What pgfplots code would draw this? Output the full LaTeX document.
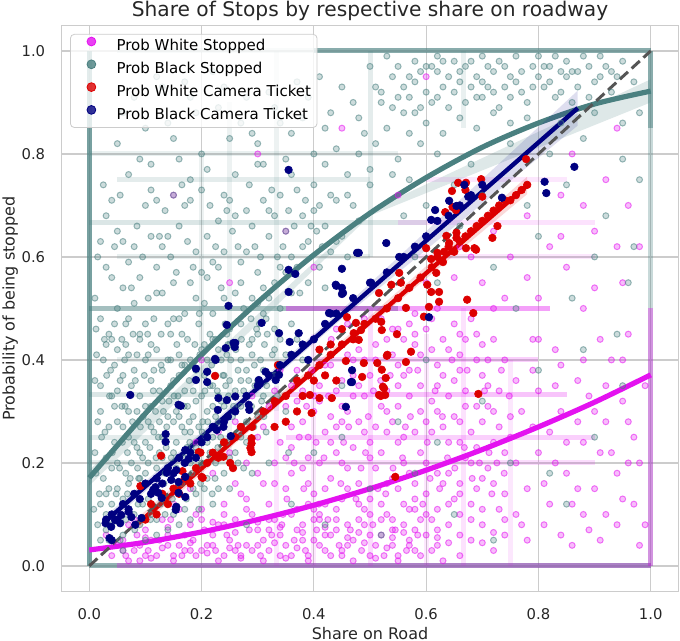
\documentclass[border=0pt]{standalone}
\usepackage{fontspec}
\setmainfont{DejaVu Sans}
\usepackage{pgfplots}
\pgfplotsset{compat=1.18}
\definecolor{cmag}{RGB}{228,18,240}
\definecolor{cteal}{RGB}{74,128,128}
\definecolor{cred}{RGB}{220,0,0}
\definecolor{cnavy}{RGB}{0,0,128}
\definecolor{cgrid}{RGB}{204,204,204}
\definecolor{cdash}{RGB}{85,85,85}
\pgfplotsset{
 tealpts/.style={forget plot, only marks, mark=*, mark size=1.5pt, mark options={draw=cteal, fill=cteal, draw opacity=0.55, fill opacity=0.28, line width=0.5pt}},
 magpts/.style={forget plot, only marks, mark=*, mark size=1.5pt, mark options={draw=cmag, fill=cmag, draw opacity=0.55, fill opacity=0.28, line width=0.5pt}},
 redpts/.style={forget plot, only marks, mark=*, mark size=1.9pt, mark options={draw=cred, fill=cred, line width=0.3pt}},
 navypts/.style={forget plot, only marks, mark=*, mark size=1.9pt, mark options={draw=cnavy, fill=cnavy, line width=0.3pt}},
 tband/.style={forget plot, cteal, line width=2.5pt, opacity=#1},
 mband/.style={forget plot, cmag, line width=2.5pt, opacity=#1},
}
\begin{document}
\begin{tikzpicture}
\begin{axis}[
 scale only axis, width=308.8pt, height=283.25pt,
 xmin=-0.05, xmax=1.05, ymin=-0.05, ymax=1.05,
 axis line style={cgrid, line width=0.6pt},
 grid=major, grid style={cgrid, line width=0.6pt},
 major tick length=0pt,
 xtick={0,0.2,0.4,0.6,0.8,1}, ytick={0,0.2,0.4,0.6,0.8,1},
 xticklabels={0.0,0.2,0.4,0.6,0.8,1.0}, yticklabels={0.0,0.2,0.4,0.6,0.8,1.0},
 tick label style={font=\fontsize{7.4}{8.9}\selectfont, text=black!85},
 xticklabel style={yshift=-5pt}, yticklabel style={xshift=-4.5pt},
 title={Share of Stops by respective share on roadway},
 title style={font=\fontsize{10.1}{12}\selectfont, at={(axis description cs:0.5,1)}, anchor=base, yshift=-1.7pt, inner sep=0pt, text=black!85},
 xlabel={Share on Road},
 xlabel style={font=\fontsize{8}{9.6}\selectfont, at={(axis description cs:0.5,0)}, anchor=north, yshift=-17.5pt, inner sep=0pt, text=black!85},
 ylabel={Probability of being stopped},
 ylabel style={font=\fontsize{8}{9.6}\selectfont, at={(axis description cs:-0.0958,0.5)}, anchor=north, inner sep=0pt, text=black!85},
 legend image code/.code={\path[draw=none,fill=none] (-9.5pt,0pt) rectangle (10.6pt,2pt); \draw[#1] plot coordinates {(0pt,2.6pt)};},
 legend cell align=left,
 legend style={at={(axis description cs:0.01425,0.9846)}, anchor=north west, draw=cgrid, rounded corners=2pt, fill=white, fill opacity=0.8, draw opacity=1, text opacity=1, font=\fontsize{7.5}{9}\selectfont, inner xsep=1pt, inner ysep=0.5pt, nodes={inner xsep=2pt, inner ysep=2pt, text height=5.7pt, text depth=1.7pt}},
]
\addlegendimage{cmag, mark=*, mark size=2.2pt}
\addlegendentry{Prob White Stopped}
\addlegendimage{cteal, mark=*, mark size=2.2pt}
\addlegendentry{Prob Black Stopped}
\addlegendimage{cred, mark=*, mark size=2.2pt}
\addlegendentry{Prob White Camera Ticket}
\addlegendimage{cnavy, mark=*, mark size=2.2pt}
\addlegendentry{Prob Black Camera Ticket}

% ---------- teal dense rows/columns ----------
\addplot[tband=0.75] coordinates {(0,0) (0,1)};
\addplot[tband=0.6] coordinates {(0,0) (1,0)};
\addplot[tband=0.15] coordinates {(0.05,1) (0.4,1)};
\addplot[tband=0.65] coordinates {(0.4,1) (1,1)};
\addplot[tband=0.65] coordinates {(1,0.85) (1,1)};
\addplot[tband=0.3] coordinates {(1,0) (1,0.85)};
\addplot[tband=0.5] coordinates {(0,0.5) (0.55,0.5)};
\addplot[tband=0.2] coordinates {(0,0.667) (0.6,0.667)};
\addplot[tband=0.2] coordinates {(0,0.333) (0.35,0.333)};
\addplot[tband=0.15] coordinates {(0,0.25) (0.3,0.25)};
\addplot[tband=0.12] coordinates {(0,0.2) (0.25,0.2)};
\addplot[tband=0.15] coordinates {(0.05,0.75) (0.5,0.75)};
\addplot[tband=0.12] coordinates {(0,0.8) (0.55,0.8)};
\addplot[tband=0.12] coordinates {(0.05,0.6) (0.5,0.6)};
\addplot[tband=0.12] coordinates {(0.05,0.4) (0.35,0.4)};
\addplot[tband=0.15] coordinates {(0.5,0.6) (0.5,1)};
\addplot[tband=0.1] coordinates {(0.25,0.2) (0.25,0.9)};
\addplot[tband=0.1] coordinates {(0.333,0.3) (0.333,1)};
\addplot[tband=0.12] coordinates {(0.667,0.85) (0.667,1)};
\addplot[tband=0.1] coordinates {(0.2,0.1) (0.2,0.8)};

% ---------- magenta dense rows/columns ----------
\addplot[mband=0.3] coordinates {(0.05,0) (1,0)};
\addplot[mband=0.4] coordinates {(0.35,0.5) (0.82,0.5)};
\addplot[mband=0.2] coordinates {(0.4,0.4) (0.8,0.4)};
\addplot[mband=0.25] coordinates {(0.35,0.333) (0.85,0.333)};
\addplot[mband=0.2] coordinates {(0.35,0.25) (0.9,0.25)};
\addplot[mband=0.15] coordinates {(0.35,0.2) (0.9,0.2)};
\addplot[mband=0.12] coordinates {(0.55,0.667) (0.9,0.667)};
\addplot[mband=0.1] coordinates {(0.55,0.6) (0.9,0.6)};
\addplot[mband=0.1] coordinates {(0.6,0.75) (0.85,0.75)};
\addplot[mband=0.35] coordinates {(1,0) (1,0.5)};
\addplot[mband=0.15] coordinates {(0.5,0) (0.5,0.5)};
\addplot[mband=0.12] coordinates {(0.667,0) (0.667,0.5)};
\addplot[mband=0.1] coordinates {(0.6,0) (0.6,0.45)};
\addplot[mband=0.1] coordinates {(0.75,0) (0.75,0.4)};
\addplot[mband=0.1] coordinates {(0.333,0) (0.333,0.35)};
\addplot[mband=0.1] coordinates {(0.4,0) (0.4,0.45)};

% ---------- Prob White Stopped (magenta scatter) ----------
\addplot[magpts] coordinates {
(0.04,0.02)(0.06,0.05)(0.08,0.03)(0.10,0.07)(0.12,0.02)(0.14,0.06)(0.16,0.04)(0.18,0.08)(0.20,0.03)(0.22,0.06)(0.24,0.02)(0.26,0.09)(0.28,0.04)(0.30,0.07)(0.32,0.03)(0.34,0.06)(0.36,0.02)(0.38,0.08)(0.40,0.05)(0.42,0.03)(0.44,0.07)(0.46,0.04)(0.48,0.09)(0.50,0.02)(0.52,0.06)(0.54,0.04)(0.56,0.08)(0.58,0.03)(0.60,0.06)
(0.05,0.04)(0.07,0.08)(0.09,0.01)(0.11,0.05)(0.13,0.09)(0.15,0.02)(0.17,0.06)(0.19,0.10)(0.21,0.04)(0.23,0.08)(0.25,0.05)(0.27,0.02)(0.29,0.10)(0.31,0.05)(0.33,0.09)(0.35,0.04)(0.37,0.07)(0.39,0.02)(0.41,0.10)(0.43,0.06)(0.45,0.02)(0.47,0.05)(0.49,0.08)(0.51,0.04)(0.53,0.10)(0.55,0.02)(0.57,0.05)(0.59,0.09)
(0.03,0.06)(0.065,0.02)(0.085,0.06)(0.105,0.03)(0.125,0.05)(0.145,0.09)(0.165,0.02)(0.185,0.05)(0.205,0.07)(0.225,0.03)(0.245,0.06)(0.265,0.04)(0.285,0.07)(0.305,0.02)(0.325,0.06)(0.345,0.10)(0.365,0.05)(0.385,0.03)(0.405,0.07)(0.425,0.09)(0.445,0.04)(0.465,0.07)(0.485,0.03)(0.505,0.08)(0.525,0.02)(0.545,0.07)(0.565,0.03)(0.585,0.06)(0.62,0.04)(0.64,0.08)(0.66,0.02)
(0.07,0.01)(0.11,0.015)(0.15,0.01)(0.19,0.02)(0.23,0.01)(0.27,0.015)(0.31,0.01)(0.35,0.015)(0.39,0.01)(0.43,0.02)(0.47,0.01)(0.51,0.015)(0.55,0.01)(0.59,0.02)(0.63,0.01)(0.09,0.04)(0.13,0.035)(0.17,0.03)(0.21,0.025)(0.25,0.035)(0.29,0.03)(0.33,0.045)(0.37,0.035)(0.41,0.04)(0.45,0.03)(0.49,0.045)(0.53,0.035)(0.57,0.04)(0.61,0.03)(0.68,0.05)(0.72,0.03)(0.70,0.08)(0.74,0.06)
(0.06,0.03)(0.10,0.02)(0.14,0.04)(0.18,0.03)(0.22,0.04)(0.26,0.03)(0.30,0.04)(0.34,0.02)(0.38,0.05)(0.42,0.06)(0.46,0.08)(0.50,0.06)(0.54,0.07)(0.58,0.07)(0.62,0.07)(0.66,0.06)(0.20,0.09)(0.24,0.08)(0.28,0.11)(0.32,0.09)(0.36,0.10)(0.40,0.09)(0.44,0.11)(0.48,0.12)(0.52,0.09)(0.56,0.12)(0.60,0.10)(0.64,0.12)(0.68,0.09)
(0.10,0.055)(0.14,0.075)(0.18,0.045)(0.22,0.085)(0.26,0.065)(0.30,0.085)(0.34,0.075)(0.38,0.065)(0.42,0.075)(0.46,0.055)(0.50,0.10)(0.54,0.055)(0.58,0.11)(0.62,0.055)(0.66,0.10)(0.70,0.045)(0.74,0.09)(0.08,0.09)(0.16,0.11)(0.24,0.10)(0.32,0.07)(0.40,0.11)(0.48,0.065)(0.56,0.065)(0.64,0.045)(0.72,0.065)
(0.32,0.12)(0.36,0.18)(0.40,0.14)(0.44,0.22)(0.48,0.16)(0.52,0.12)(0.56,0.20)(0.60,0.14)(0.64,0.18)(0.68,0.12)(0.72,0.16)(0.76,0.10)
(0.34,0.24)(0.38,0.28)(0.42,0.26)(0.46,0.30)(0.50,0.24)(0.54,0.28)(0.58,0.26)(0.62,0.30)(0.66,0.24)(0.70,0.28)(0.74,0.22)
(0.33,0.34)(0.37,0.38)(0.41,0.32)(0.45,0.36)(0.49,0.40)(0.53,0.34)(0.57,0.38)(0.61,0.32)(0.65,0.36)(0.69,0.40)(0.73,0.34)
(0.40,0.44)(0.44,0.46)(0.48,0.42)(0.52,0.48)(0.56,0.44)(0.60,0.46)(0.64,0.42)(0.68,0.48)(0.72,0.44)(0.62,0.50)(0.66,0.45)
(0.35,0.15)(0.39,0.21)(0.43,0.17)(0.47,0.23)(0.51,0.19)(0.55,0.15)(0.59,0.22)(0.63,0.16)(0.67,0.21)(0.71,0.19)(0.75,0.25)
(0.31,0.27)(0.35,0.31)(0.39,0.25)(0.43,0.29)(0.47,0.33)(0.51,0.27)(0.55,0.31)(0.59,0.35)(0.63,0.27)(0.67,0.31)(0.71,0.35)(0.75,0.29)
(0.42,0.39)(0.46,0.41)(0.50,0.37)(0.54,0.41)(0.58,0.43)(0.62,0.39)(0.66,0.41)(0.70,0.37)(0.46,0.47)(0.54,0.46)(0.58,0.49)
(0.37,0.11)(0.41,0.09)(0.45,0.13)(0.49,0.11)(0.53,0.16)(0.57,0.11)(0.61,0.09)(0.65,0.13)(0.69,0.15)(0.73,0.11)
(0.30,0.18)(0.28,0.13)(0.26,0.16)(0.24,0.12)(0.33,0.20)(0.36,0.23)(0.38,0.34)(0.40,0.30)(0.44,0.34)(0.48,0.28)(0.52,0.22)(0.56,0.25)(0.60,0.20)(0.64,0.24)(0.68,0.20)(0.72,0.24)(0.62,0.35)(0.66,0.38)(0.70,0.43)(0.74,0.40)
(0.45,0.20)(0.49,0.26)(0.53,0.30)(0.57,0.18)(0.61,0.26)(0.65,0.29)(0.69,0.23)(0.73,0.27)(0.47,0.37)(0.51,0.43)(0.55,0.39)(0.59,0.30)(0.63,0.44)(0.67,0.34)(0.71,0.31)(0.43,0.24)(0.39,0.16)(0.41,0.20)(0.55,0.35)(0.61,0.42)(0.65,0.47)(0.69,0.45)(0.57,0.47)(0.53,0.44)(0.49,0.33)(0.45,0.28)(0.42,0.12)(0.46,0.15)(0.50,0.13)(0.54,0.09)(0.58,0.13)(0.62,0.11)(0.66,0.16)(0.70,0.11)
(0.36,0.27)(0.40,0.33)(0.44,0.27)(0.48,0.35)(0.52,0.31)(0.56,0.37)(0.60,0.28)(0.64,0.33)(0.68,0.26)(0.72,0.30)(0.38,0.19)(0.42,0.15)(0.46,0.19)(0.50,0.21)(0.54,0.17)(0.58,0.16)(0.62,0.18)(0.66,0.14)(0.70,0.17)(0.74,0.14)
(0.43,0.39)(0.47,0.44)(0.51,0.40)(0.55,0.46)(0.59,0.41)(0.63,0.37)(0.67,0.44)(0.71,0.40)(0.49,0.48)(0.61,0.48)(0.57,0.33)(0.53,0.26)(0.45,0.31)(0.41,0.35)(0.37,0.32)(0.35,0.21)(0.39,0.12)(0.33,0.16)
(0.352,0.13)(0.374,0.25)(0.396,0.38)(0.418,0.21)(0.44,0.09)(0.462,0.27)(0.484,0.19)(0.506,0.34)(0.528,0.14)(0.55,0.24)(0.572,0.29)(0.594,0.12)(0.616,0.34)(0.638,0.21)(0.66,0.28)(0.682,0.17)(0.704,0.34)(0.726,0.20)(0.748,0.33)
(0.36,0.35)(0.382,0.15)(0.404,0.24)(0.426,0.33)(0.448,0.16)(0.47,0.40)(0.492,0.22)(0.514,0.15)(0.536,0.37)(0.558,0.21)(0.58,0.45)(0.602,0.24)(0.624,0.15)(0.646,0.40)(0.668,0.23)(0.69,0.31)(0.712,0.22)(0.734,0.38)
(0.343,0.08)(0.365,0.20)(0.387,0.31)(0.409,0.12)(0.431,0.44)(0.453,0.24)(0.475,0.13)(0.497,0.29)(0.519,0.36)(0.541,0.19)(0.563,0.27)(0.585,0.38)(0.607,0.17)(0.629,0.29)(0.651,0.19)(0.673,0.38)(0.695,0.20)(0.717,0.14)(0.739,0.18)
(0.78,0.05)(0.82,0.12)(0.86,0.04)(0.90,0.15)(0.94,0.08)(0.98,0.20)(0.80,0.22)(0.84,0.30)(0.88,0.24)(0.92,0.35)(0.96,0.28)(0.79,0.38)(0.83,0.42)(0.87,0.36)(0.91,0.44)(0.95,0.40)(0.77,0.30)(0.81,0.08)(0.85,0.18)(0.89,0.07)(0.93,0.22)(0.97,0.12)(0.99,0.35)(0.78,0.15)(0.82,0.26)(0.86,0.12)(0.90,0.30)(0.94,0.18)(0.98,0.04)(0.80,0.34)(0.84,0.06)(0.88,0.40)(0.92,0.10)(0.96,0.45)(0.76,0.20)(0.79,0.44)(0.87,0.28)(0.95,0.32)(0.83,0.20)(0.91,0.05)
(0.77,0.08)(0.81,0.16)(0.85,0.24)(0.89,0.33)(0.93,0.40)(0.97,0.25)(0.79,0.27)(0.83,0.35)(0.87,0.15)(0.91,0.22)(0.95,0.13)(0.99,0.08)(0.76,0.36)(0.80,0.44)(0.84,0.39)(0.88,0.10)(0.92,0.28)(0.96,0.20)
(0.70,0.55)(0.75,0.60)(0.80,0.52)(0.85,0.58)(0.90,0.65)(0.95,0.55)(0.78,0.68)(0.84,0.72)(0.92,0.75)(0.72,0.65)(0.88,0.50)(0.98,0.62)(0.65,0.56)(0.82,0.62)(0.96,0.70)(0.74,0.52)(0.68,0.60)(0.86,0.80)(0.60,0.55)(0.94,0.85)
(0.72,0.50)(0.78,0.56)(0.84,0.64)(0.90,0.54)(0.94,0.62)(0.76,0.72)(0.88,0.70)(0.66,0.62)
(0.15,0.12)(0.18,0.15)(0.22,0.18)(0.25,0.22)(0.28,0.20)(0.20,0.11)(0.30,0.25)(0.12,0.10)(0.26,0.28)(0.32,0.31)(0.34,0.38)(0.29,0.33)(0.17,0.20)(0.23,0.26)(0.27,0.14)(0.31,0.16)(0.19,0.24)
(0.25,0.55)(0.15,0.72)(0.35,0.65)(0.30,0.80)(0.45,0.85)(0.20,0.40)(0.40,0.58)(0.55,0.72)(0.60,0.95)
};
\addplot[forget plot, cmag, line width=2.6pt, smooth] coordinates {(0,0.031)(0.1,0.046)(0.2,0.066)(0.3,0.090)(0.4,0.118)(0.5,0.150)(0.6,0.186)(0.7,0.226)(0.8,0.270)(0.9,0.318)(1,0.371)};

% ---------- Prob Black Stopped (teal scatter) ----------
\addplot[tealpts] coordinates {
(0.02,0.12)(0.03,0.21)(0.04,0.33)(0.05,0.09)(0.06,0.27)(0.07,0.16)(0.08,0.38)(0.09,0.22)(0.10,0.31)(0.11,0.14)(0.12,0.42)(0.13,0.25)(0.14,0.19)(0.15,0.36)(0.16,0.29)(0.17,0.11)(0.18,0.40)(0.19,0.23)(0.20,0.33)(0.21,0.17)(0.22,0.44)(0.23,0.28)(0.24,0.37)(0.25,0.21)
(0.015,0.28)(0.025,0.40)(0.035,0.15)(0.045,0.24)(0.055,0.36)(0.065,0.43)(0.075,0.20)(0.085,0.30)(0.095,0.12)(0.105,0.41)(0.115,0.26)(0.125,0.34)(0.135,0.18)(0.145,0.45)(0.155,0.24)(0.165,0.39)(0.175,0.31)(0.185,0.15)(0.195,0.27)(0.205,0.43)(0.215,0.35)(0.225,0.20)(0.235,0.32)(0.245,0.41)
(0.02,0.35)(0.03,0.07)(0.04,0.19)(0.05,0.42)(0.06,0.13)(0.07,0.30)(0.08,0.24)(0.09,0.44)(0.10,0.18)(0.11,0.36)(0.12,0.09)(0.13,0.32)(0.14,0.40)(0.15,0.22)(0.16,0.14)(0.17,0.34)(0.18,0.26)(0.19,0.38)(0.20,0.20)(0.21,0.30)(0.22,0.25)(0.23,0.42)(0.24,0.18)(0.26,0.34)
(0.012,0.18)(0.028,0.26)(0.038,0.38)(0.048,0.14)(0.058,0.31)(0.068,0.22)(0.078,0.45)(0.088,0.17)(0.098,0.37)(0.108,0.23)(0.118,0.30)(0.128,0.45)(0.138,0.27)(0.148,0.13)(0.158,0.33)(0.168,0.21)(0.178,0.36)(0.188,0.43)(0.198,0.16)(0.208,0.25)(0.218,0.39)(0.228,0.34)(0.238,0.27)(0.27,0.40)
(0.02,0.05)(0.04,0.08)(0.06,0.06)(0.03,0.10)(0.05,0.15)(0.07,0.11)(0.09,0.08)(0.11,0.10)(0.13,0.13)(0.08,0.14)
(0.01,0.22)(0.02,0.30)(0.03,0.14)(0.04,0.44)(0.05,0.20)(0.06,0.37)(0.07,0.25)(0.08,0.10)(0.09,0.33)(0.10,0.24)(0.11,0.43)(0.12,0.19)(0.13,0.38)(0.14,0.29)(0.15,0.10)(0.16,0.41)(0.17,0.26)(0.18,0.20)(0.19,0.32)(0.20,0.42)(0.21,0.24)(0.22,0.35)(0.23,0.15)(0.24,0.31)(0.26,0.22)(0.27,0.36)(0.29,0.41)(0.31,0.38)(0.33,0.46)(0.35,0.41)
(0.025,0.17)(0.045,0.31)(0.065,0.18)(0.085,0.41)(0.105,0.28)(0.125,0.22)(0.145,0.35)(0.165,0.16)(0.185,0.29)(0.205,0.37)(0.225,0.44)(0.245,0.24)(0.14,0.07)(0.10,0.05)(0.18,0.09)(0.06,0.03)(0.12,0.06)(0.16,0.08)
(0.015,0.08)(0.035,0.27)(0.055,0.05)(0.075,0.35)(0.095,0.21)(0.115,0.38)(0.135,0.10)(0.155,0.30)(0.175,0.44)(0.195,0.11)(0.215,0.22)(0.235,0.40)(0.255,0.29)(0.275,0.19)(0.295,0.35)(0.315,0.26)(0.335,0.33)(0.355,0.22)
(0.01,0.36)(0.03,0.43)(0.05,0.28)(0.07,0.41)(0.09,0.17)(0.11,0.31)(0.13,0.21)(0.15,0.28)(0.17,0.39)(0.19,0.14)(0.21,0.40)(0.23,0.33)(0.25,0.36)(0.27,0.31)(0.29,0.18)(0.31,0.33)(0.33,0.37)(0.37,0.44)
(0.045,0.39)(0.065,0.09)(0.085,0.23)(0.105,0.13)(0.125,0.28)(0.145,0.40)(0.165,0.27)(0.185,0.34)(0.205,0.15)(0.225,0.29)(0.245,0.45)(0.265,0.38)(0.285,0.43)(0.305,0.40)
(0.013,0.41)(0.036,0.33)(0.059,0.24)(0.082,0.36)(0.105,0.20)(0.128,0.39)(0.151,0.33)(0.174,0.23)(0.197,0.41)(0.22,0.31)(0.243,0.35)(0.266,0.26)(0.289,0.31)(0.312,0.43)
(0.018,0.14)(0.041,0.22)(0.064,0.31)(0.087,0.12)(0.11,0.27)(0.133,0.16)(0.156,0.43)(0.179,0.24)(0.202,0.28)(0.225,0.37)(0.248,0.33)(0.271,0.44)(0.294,0.39)(0.317,0.45)
(0.022,0.25)(0.045,0.47)(0.068,0.14)(0.091,0.27)(0.114,0.34)(0.137,0.23)(0.16,0.37)(0.183,0.18)(0.206,0.34)(0.229,0.23)(0.252,0.40)(0.275,0.34)(0.298,0.46)(0.321,0.37)
(0.008,0.11)(0.031,0.37)(0.054,0.19)(0.077,0.28)(0.1,0.40)(0.123,0.25)(0.146,0.21)(0.169,0.31)(0.192,0.19)(0.215,0.45)(0.238,0.37)(0.261,0.42)(0.284,0.36)(0.307,0.32)
(0.027,0.44)(0.05,0.34)(0.073,0.17)(0.096,0.29)(0.119,0.21)(0.142,0.32)(0.165,0.45)(0.188,0.22)(0.211,0.28)(0.234,0.25)(0.257,0.31)(0.28,0.28)(0.303,0.47)(0.326,0.41)
(0.04,0.12)(0.063,0.40)(0.086,0.19)(0.109,0.09)(0.132,0.30)(0.155,0.19)(0.178,0.28)(0.201,0.26)(0.224,0.17)(0.247,0.43)(0.27,0.25)(0.293,0.27)(0.316,0.35)(0.34,0.44)
(0.012,0.46)(0.035,0.05)(0.058,0.44)(0.081,0.07)(0.104,0.45)(0.127,0.12)(0.15,0.48)(0.173,0.13)(0.196,0.49)(0.219,0.14)(0.242,0.47)(0.265,0.20)(0.288,0.48)(0.311,0.29)
(0.02,0.48)(0.04,0.56)(0.06,0.63)(0.08,0.51)(0.10,0.70)(0.12,0.58)(0.14,0.47)(0.16,0.66)(0.18,0.55)(0.20,0.73)(0.22,0.49)(0.24,0.61)(0.26,0.53)(0.28,0.69)(0.30,0.57)(0.32,0.64)(0.34,0.72)(0.36,0.60)(0.38,0.68)(0.40,0.74)(0.42,0.66)(0.44,0.71)
(0.03,0.68)(0.05,0.50)(0.07,0.59)(0.09,0.45)(0.11,0.64)(0.13,0.53)(0.15,0.72)(0.17,0.49)(0.19,0.61)(0.21,0.56)(0.23,0.67)(0.25,0.46)(0.27,0.59)(0.29,0.52)(0.31,0.71)(0.33,0.55)(0.35,0.65)(0.37,0.58)(0.39,0.63)(0.41,0.70)(0.43,0.61)
(0.015,0.60)(0.035,0.45)(0.055,0.72)(0.075,0.54)(0.095,0.60)(0.115,0.48)(0.135,0.69)(0.155,0.57)(0.175,0.63)(0.195,0.47)(0.215,0.70)(0.235,0.54)(0.255,0.65)(0.275,0.50)(0.295,0.62)(0.315,0.48)(0.335,0.60)(0.355,0.69)(0.375,0.53)(0.395,0.66)(0.415,0.62)
(0.01,0.52)(0.03,0.58)(0.05,0.65)(0.07,0.48)(0.09,0.56)(0.11,0.73)(0.13,0.62)(0.15,0.55)(0.17,0.70)(0.19,0.52)(0.21,0.64)(0.23,0.58)(0.25,0.71)(0.27,0.55)(0.29,0.66)(0.31,0.54)(0.33,0.68)(0.35,0.57)(0.37,0.73)(0.39,0.55)(0.41,0.58)(0.43,0.72)(0.45,0.64)(0.47,0.70)
(0.025,0.74)(0.045,0.62)(0.065,0.47)(0.085,0.66)(0.105,0.52)(0.125,0.64)(0.145,0.60)(0.165,0.74)(0.185,0.58)(0.205,0.51)(0.225,0.62)(0.245,0.69)(0.265,0.62)(0.285,0.74)(0.305,0.60)(0.325,0.73)(0.345,0.62)(0.365,0.66)(0.385,0.71)(0.405,0.65)
(0.02,0.63)(0.06,0.54)(0.10,0.47)(0.14,0.64)(0.18,0.71)(0.22,0.59)(0.26,0.68)(0.30,0.51)(0.34,0.58)(0.38,0.62)(0.42,0.54)(0.46,0.60)
(0.04,0.71)(0.08,0.62)(0.12,0.53)(0.16,0.48)(0.20,0.57)(0.24,0.52)(0.28,0.61)(0.32,0.69)(0.36,0.53)(0.40,0.69)(0.44,0.63)(0.48,0.67)
(0.25,0.43)(0.27,0.47)(0.29,0.44)(0.31,0.49)(0.28,0.38)(0.30,0.45)(0.32,0.52)(0.34,0.50)(0.26,0.30)(0.3,0.36)(0.33,0.42)(0.36,0.47)(0.22,0.12)(0.25,0.15)(0.28,0.24)(0.3,0.29)
(0.05,0.82)(0.08,0.91)(0.11,0.78)(0.14,0.86)(0.17,0.94)(0.20,0.80)(0.23,0.89)(0.26,0.76)(0.29,0.84)(0.32,0.92)(0.35,0.79)(0.38,0.87)(0.41,0.95)(0.44,0.81)(0.47,0.90)(0.50,0.77)(0.53,0.85)(0.56,0.93)(0.59,0.82)
(0.07,0.76)(0.10,0.85)(0.13,0.93)(0.16,0.79)(0.19,0.88)(0.22,0.96)(0.25,0.83)(0.28,0.91)(0.31,0.78)(0.34,0.86)(0.37,0.94)(0.40,0.80)(0.43,0.88)(0.46,0.76)(0.49,0.84)(0.52,0.92)(0.55,0.79)(0.58,0.88)
(0.06,0.88)(0.09,0.79)(0.12,0.95)(0.15,0.83)(0.18,0.91)(0.21,0.77)(0.24,0.93)(0.27,0.86)(0.30,0.82)(0.33,0.89)(0.36,0.84)(0.39,0.91)(0.42,0.85)(0.45,0.93)(0.48,0.87)(0.51,0.82)(0.54,0.89)(0.57,0.84)
(0.12,0.71)(0.18,0.75)(0.24,0.72)(0.30,0.78)(0.36,0.76)(0.42,0.78)(0.46,0.72)(0.48,0.80)(0.50,0.74)(0.54,0.76)(0.57,0.75)
(0.50,0.97)(0.52,0.90)(0.54,0.95)(0.56,0.88)(0.58,0.98)(0.60,0.92)(0.62,0.96)(0.64,0.89)(0.66,0.94)(0.68,0.98)(0.70,0.91)(0.72,0.96)(0.74,0.93)(0.76,0.99)(0.78,0.90)(0.80,0.95)(0.82,0.97)(0.84,0.92)(0.86,0.96)(0.88,0.99)(0.90,0.94)(0.92,0.97)(0.94,0.95)
(0.51,0.93)(0.53,0.99)(0.55,0.91)(0.57,0.95)(0.59,0.89)(0.61,0.97)(0.63,0.93)(0.65,0.98)(0.67,0.90)(0.69,0.95)(0.71,0.97)(0.73,0.89)(0.75,0.95)(0.77,0.92)(0.79,0.97)(0.81,0.93)(0.83,0.99)(0.85,0.95)(0.87,0.93)(0.89,0.97)(0.91,0.99)(0.93,0.96)
(0.55,0.97)(0.57,0.91)(0.59,0.96)(0.61,0.90)(0.63,0.98)(0.65,0.92)(0.67,0.97)(0.69,0.91)(0.71,0.93)(0.73,0.98)(0.75,0.91)(0.77,0.96)(0.79,0.93)(0.81,0.97)(0.83,0.91)(0.85,0.98)(0.87,0.96)(0.89,0.91)(0.91,0.95)(0.93,0.92)(0.95,0.98)(0.97,0.94)
(0.60,0.86)(0.63,0.84)(0.66,0.87)(0.69,0.85)(0.72,0.88)(0.75,0.86)(0.78,0.87)(0.62,0.99)(0.70,0.99)(0.80,0.99)(0.64,0.95)(0.68,0.93)(0.74,0.97)(0.84,0.96)(0.58,0.94)
(0.62,0.91)(0.66,0.96)(0.70,0.94)(0.76,0.94)(0.82,0.94)(0.86,0.90)(0.60,0.97)(0.72,0.92)
(0.62,0.80)(0.68,0.78)(0.75,0.82)(0.82,0.80)(0.88,0.83)(0.95,0.79)(0.70,0.72)(0.78,0.70)(0.85,0.74)(0.92,0.68)(0.98,0.75)(0.66,0.66)(0.80,0.64)(0.90,0.60)(0.96,0.55)(0.72,0.58)(0.86,0.52)(0.94,0.45)(0.58,0.60)(0.62,0.55)(0.76,0.50)(0.88,0.42)(0.98,0.88)(0.95,0.86)(0.90,0.88)(0.84,0.86)(0.97,0.62)(0.60,0.70)(0.65,0.74)(0.56,0.68)
(0.35,0.30)(0.40,0.22)(0.45,0.35)(0.50,0.15)(0.55,0.28)(0.60,0.40)(0.65,0.10)(0.70,0.32)(0.75,0.20)(0.80,0.38)(0.85,0.12)(0.90,0.25)(0.95,0.35)(0.42,0.08)(0.52,0.06)(0.62,0.24)(0.72,0.05)(0.82,0.18)(0.38,0.40)(0.48,0.44)(0.32,0.20)(0.36,0.12)(0.28,0.08)(0.45,0.25)(0.58,0.18)
};
\addplot[forget plot, fill=cteal, fill opacity=0.18, draw=none] coordinates {(0,0.186)(0.5,0.69)(1,0.945)(1,0.9)(0.5,0.68)(0,0.156)} -- cycle;
\addplot[forget plot, cteal, line width=2.6pt, smooth] coordinates {(0,0.171)(0.1,0.296)(0.2,0.410)(0.3,0.512)(0.4,0.604)(0.5,0.685)(0.6,0.754)(0.7,0.813)(0.8,0.860)(0.9,0.897)(1,0.922)};

% ---------- Prob White Camera Ticket (red) ----------
\addplot[redpts] coordinates {
(0.10,0.09)(0.11,0.12)(0.12,0.10)(0.13,0.14)(0.14,0.12)(0.15,0.15)(0.16,0.14)(0.17,0.17)(0.18,0.16)(0.19,0.19)(0.21,0.20)(0.22,0.22)(0.23,0.21)(0.24,0.24)(0.26,0.25)(0.27,0.27)(0.29,0.27)(0.31,0.30)(0.33,0.32)(0.35,0.33)(0.37,0.36)(0.39,0.37)(0.41,0.39)(0.43,0.41)(0.45,0.43)(0.47,0.44)(0.49,0.47)(0.51,0.48)(0.53,0.50)(0.55,0.52)(0.57,0.54)(0.59,0.56)(0.61,0.58)(0.62,0.60)(0.63,0.59)(0.64,0.62)(0.65,0.61)(0.66,0.63)(0.67,0.64)(0.68,0.65)(0.69,0.66)(0.70,0.67)(0.71,0.68)(0.72,0.69)(0.73,0.70)(0.74,0.71)(0.75,0.71)(0.76,0.72)(0.77,0.73)(0.78,0.74)
(0.224,0.369)(0.336,0.39)(0.198,0.22)(0.20,0.173)(0.239,0.212)(0.251,0.20)(0.256,0.19)(0.289,0.248)(0.289,0.238)(0.289,0.221)(0.128,0.214)(0.091,0.155)(0.166,0.184)
(0.657,0.744)(0.671,0.744)(0.646,0.728)(0.67,0.73)(0.698,0.751)(0.70,0.717)(0.634,0.687)(0.647,0.697)(0.653,0.691)(0.727,0.66)(0.718,0.637)(0.636,0.641)(0.654,0.647)(0.654,0.637)(0.641,0.627)(0.632,0.61)(0.671,0.617)(0.686,0.617)(0.689,0.614)(0.60,0.617)(0.609,0.596)(0.62,0.608)(0.618,0.569)(0.602,0.546)(0.552,0.569)(0.555,0.55)(0.538,0.546)(0.516,0.53)(0.609,0.532)(0.623,0.532)(0.605,0.503)(0.623,0.513)(0.673,0.517)(0.684,0.491)(0.564,0.501)(0.596,0.484)
(0.459,0.483)(0.475,0.472)(0.484,0.458)(0.471,0.452)(0.48,0.439)(0.52,0.474)(0.521,0.458)(0.548,0.45)(0.573,0.416)(0.564,0.396)(0.53,0.408)(0.513,0.394)(0.489,0.394)(0.486,0.367)(0.521,0.381)(0.528,0.365)(0.457,0.398)(0.778,0.79)
(0.693,0.334)(0.545,0.173)(0.393,0.332)(0.41,0.326)(0.432,0.326)(0.396,0.297)(0.516,0.332)(0.527,0.332)(0.523,0.348)(0.287,0.229)(0.195,0.221)(0.202,0.171)(0.525,0.345)(0.531,0.41)(0.519,0.33)
(0.38,0.33)(0.40,0.36)(0.42,0.37)(0.44,0.36)(0.37,0.30)(0.35,0.28)(0.33,0.27)(0.43,0.43)(0.45,0.46)(0.41,0.42)
};
\addplot[forget plot, fill=cred, fill opacity=0.15, draw=none] coordinates {(0.0875,0.071)(0.45,0.421)(0.78,0.722)(0.78,0.756)(0.45,0.437)(0.0875,0.095)} -- cycle;
\addplot[forget plot, cred, line width=2.2pt] coordinates {(0.0875,0.083)(0.78,0.739)};

% ---------- Prob Black Camera Ticket (navy) ----------
\addplot[navypts] coordinates {
(0.03,0.09)(0.04,0.10)(0.05,0.09)(0.06,0.12)(0.07,0.11)(0.08,0.14)(0.09,0.13)(0.10,0.16)(0.11,0.14)(0.12,0.17)(0.13,0.16)(0.14,0.19)(0.15,0.18)(0.16,0.21)(0.17,0.20)(0.18,0.22)(0.19,0.21)(0.20,0.24)(0.21,0.25)(0.22,0.27)(0.24,0.28)(0.26,0.30)(0.28,0.33)(0.30,0.35)(0.32,0.37)(0.34,0.39)(0.36,0.41)(0.38,0.43)(0.40,0.44)(0.42,0.47)(0.44,0.49)(0.47,0.52)(0.50,0.55)(0.53,0.57)(0.56,0.60)(0.58,0.62)(0.60,0.64)(0.62,0.67)(0.64,0.68)(0.66,0.70)(0.68,0.72)(0.70,0.74)
(0.355,0.769)(0.248,0.505)(0.245,0.468)(0.26,0.433)(0.243,0.423)(0.225,0.40)(0.19,0.383)(0.21,0.377)(0.19,0.361)(0.21,0.357)(0.307,0.472)(0.355,0.532)(0.355,0.575)(0.367,0.567)(0.44,0.544)(0.45,0.54)(0.45,0.528)(0.45,0.577)(0.477,0.608)(0.43,0.49)(0.314,0.377)(0.332,0.361)(0.468,0.38)(0.468,0.357)(0.39,0.40)(0.373,0.452)(0.338,0.452)
(0.073,0.332)(0.257,0.433)(0.259,0.425)(0.224,0.402)(0.163,0.311)(0.23,0.326)(0.245,0.322)(0.229,0.303)(0.247,0.29)(0.26,0.329)(0.284,0.313)(0.285,0.303)(0.302,0.361)(0.338,0.371)(0.357,0.435)(0.136,0.256)(0.136,0.241)(0.171,0.225)(0.177,0.208)(0.138,0.181)(0.155,0.186)(0.146,0.167)(0.159,0.163)(0.171,0.173)(0.118,0.153)(0.123,0.142)(0.114,0.148)(0.129,0.132)(0.159,0.142)(0.171,0.134)(0.155,0.115)(0.154,0.109)(0.07,0.105)(0.075,0.095)(0.057,0.099)(0.046,0.089)(0.055,0.083)(0.082,0.08)(0.093,0.093)(0.039,0.076)(0.029,0.083)(0.227,0.264)(0.239,0.27)(0.252,0.252)
(0.668,0.74)(0.675,0.717)(0.641,0.709)(0.654,0.699)(0.616,0.691)(0.609,0.672)(0.735,0.715)(0.811,0.746)(0.814,0.724)(0.864,0.775)(0.529,0.627)(0.48,0.608)(0.439,0.546)(0.452,0.53)(0.502,0.55)(0.552,0.6)(0.605,0.483)(0.427,0.491)(0.466,0.357)
(0.159,0.313)(0.457,0.309)(0.036,0.054)(0.04,0.05)
};
\addplot[forget plot, fill=cnavy, fill opacity=0.13, draw=none] coordinates {(0.028,0.076)(0.45,0.480)(0.87,0.855)(0.87,0.923)(0.45,0.498)(0.028,0.096)} -- cycle;
\addplot[forget plot, cnavy, line width=2.2pt] coordinates {(0.028,0.086)(0.87,0.889)};

% ---------- diagonal ----------
\addplot[forget plot, cdash, line width=1.5pt, dash pattern=on 5.5pt off 2.5pt] coordinates {(0,0)(1,1)};
\end{axis}
\pgfresetboundingbox
\path[use as bounding box] ([shift={(-30.6pt,-24.6pt)}]current axis.south west) rectangle ([shift={(0.6pt,12.6pt)}]current axis.north east);
\end{tikzpicture}
\end{document}
